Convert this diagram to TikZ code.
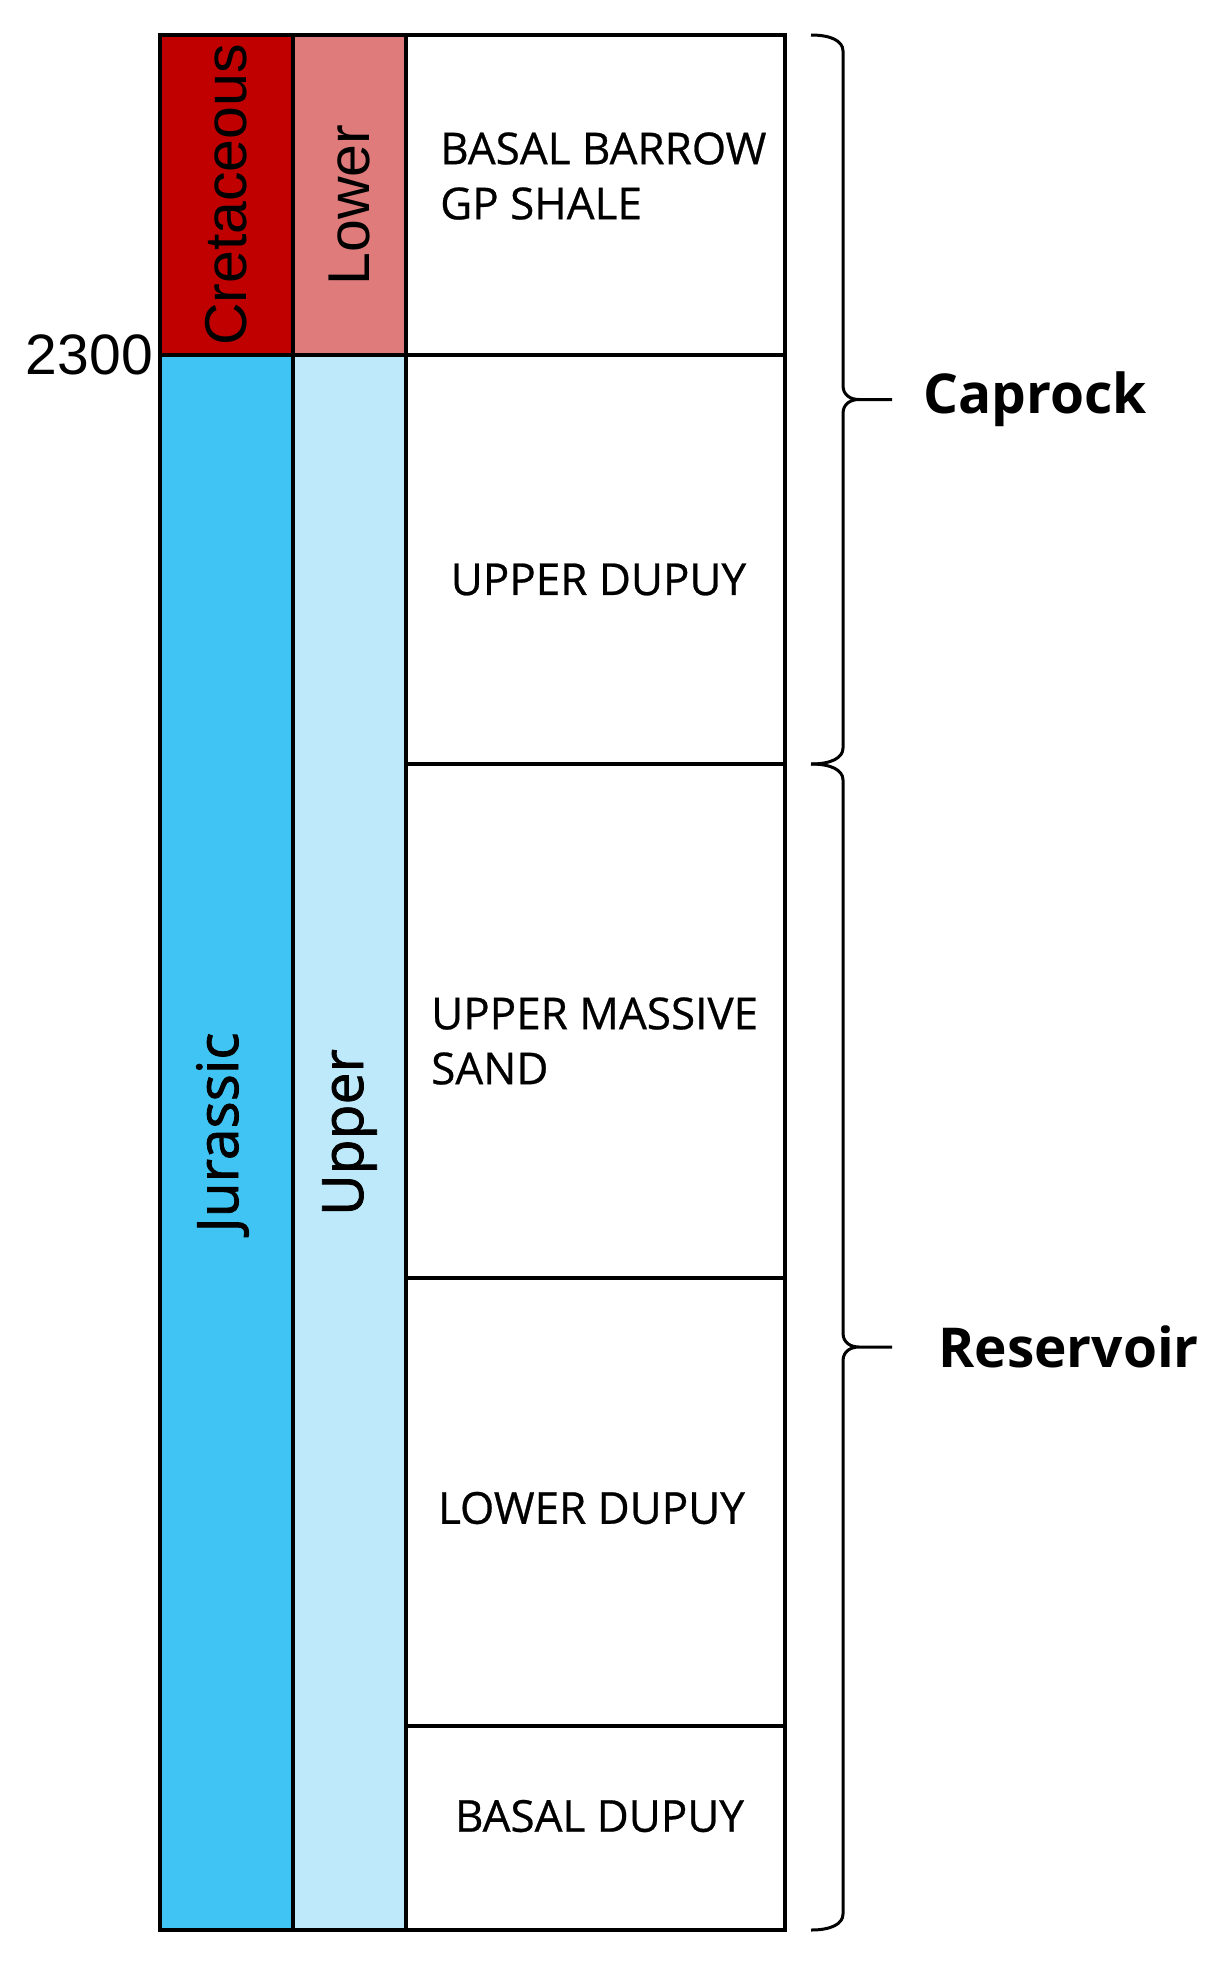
\documentclass[tikz,border=0pt]{standalone}
\usepackage{fontspec}
\setmainfont{Liberation Sans}
\newfontfamily\unitfont{Open Sans}[FakeBold=0.6]
\newfontfamily\epochfont{Open Sans}[FakeBold=1.4]
\newfontfamily\zonefont{Open Sans}
\usetikzlibrary{positioning, calc}
\definecolor{cretred}{RGB}{192,0,0}
\definecolor{lowerred}{RGB}{223,123,123}
\definecolor{jurblue}{RGB}{64,196,244}
\definecolor{upperblue}{RGB}{189,233,250}
\tikzset{
    cellbox/.style={
        rectangle,
        draw=black,
        line width=3.5pt,
        fill=white,
        inner sep=0pt,
        outer sep=0pt
    },
    periodlabel/.style={
        rotate=90,
        inner sep=0pt,
        font=\fontsize{59}{70}\selectfont
    },
    epochlabel/.style={
        rotate=90,
        inner sep=0pt,
        font=\epochfont\fontsize{57}{68}\selectfont
    },
    unitlabel/.style={
        inner sep=0pt,
        align=left,
        font=\unitfont\fontsize{44}{55}\selectfont
    },
    zonelabel/.style={
        inner sep=0pt,
        font=\zonefont\bfseries\fontsize{55}{66}\selectfont
    },
    depthlabel/.style={
        inner sep=0pt,
        font=\fontsize{57}{68}\selectfont
    },
    bracestroke/.style={
        draw=black,
        line width=3pt
    }
}

\begin{document}
\begin{tikzpicture}[x=1pt, y=-1pt]
    \useasboundingbox (0,0) rectangle (1222,1970);

    % period and epoch columns
    \node[cellbox, fill=cretred, minimum width=133pt, minimum height=320pt, anchor=north west] (cret) at (160,35) {};
    \node[cellbox, fill=lowerred, minimum width=113pt, minimum height=320pt, right=0pt of cret] (lowcret) {};
    \node[cellbox, fill=jurblue, minimum width=133pt, minimum height=1575pt, below=0pt of cret] (jur) {};
    \node[cellbox, fill=upperblue, minimum width=113pt, minimum height=1575pt, below=0pt of lowcret] (upjur) {};

    % formation column
    \node[cellbox, minimum width=379pt, minimum height=320pt, right=0pt of lowcret] (barrow) {};
    \node[cellbox, minimum width=379pt, minimum height=409pt, below=0pt of barrow] (updupuy) {};
    \node[cellbox, minimum width=379pt, minimum height=514pt, below=0pt of updupuy] (massive) {};
    \node[cellbox, minimum width=379pt, minimum height=448pt, below=0pt of massive] (lowdupuy) {};
    \node[cellbox, minimum width=379pt, minimum height=204pt, below=0pt of lowdupuy] (basal) {};

    \node[periodlabel] (cretlabel) at (cret.center) {Cretaceous};
    \node[periodlabel] (lowlabel) at ($(lowcret.center)+(0,10)$) {Lower};
    \node[epochlabel] (jurlabel) at ($(jur.center)+(-4,-10)$) {Jurassic};
    \node[epochlabel] (uplabel) at ($(upjur.center)+(0,-10)$) {Upper};
    \node[depthlabel, left=7pt of cret.south west] (depth) {2300};

    \node[unitlabel, anchor=west] (barrowlabel) at ($(barrow.west)+(34,-19)$) {BASAL BARROW\\GP SHALE};
    \node[unitlabel] (updupuylabel) at ($(updupuy.center)+(3,20)$) {UPPER DUPUY};
    \node[unitlabel, anchor=west] (massivelabel) at ($(massive.west)+(25,20)$) {UPPER MASSIVE\\SAND};
    \node[unitlabel] (lowdupuylabel) at ($(lowdupuy.center)+(-4,6)$) {LOWER DUPUY};
    \node[unitlabel] (basallabel) at ($(basal.center)+(4,-12)$) {BASAL DUPUY};

    % braces
    \coordinate (captop) at ($(barrow.north east)+(26,0)$);
    \coordinate (capbot) at ($(updupuy.south east)+(26,0)$);
    \coordinate (captip) at ($(captop)!0.5!(capbot)$);
    \coordinate (resbot) at ($(basal.south east)+(26,0)$);
    \coordinate (restip) at ($(capbot)!0.5!(resbot)$);
    \coordinate (capend) at ($(captip)+(81,0)$);
    \coordinate (resend) at ($(restip)+(81,0)$);

    \draw[bracestroke] (captop) .. controls +(20,0) and +(0,-10) .. ($(captop)+(32,16)$)
        -- ($(captip)+(32,-14)$) .. controls +(0,10) and +(-8,0) .. ($(captip)+(48,0)$) -- (capend)
        ($(captip)+(48,0)$) .. controls +(-8,0) and +(0,-10) .. ($(captip)+(32,14)$)
        -- ($(capbot)+(32,-16)$) .. controls +(0,10) and +(20,0) .. (capbot);
    \draw[bracestroke] (capbot) .. controls +(20,0) and +(0,-10) .. ($(capbot)+(32,16)$)
        -- ($(restip)+(32,-14)$) .. controls +(0,10) and +(-8,0) .. ($(restip)+(48,0)$) -- (resend)
        ($(restip)+(48,0)$) .. controls +(-8,0) and +(0,-10) .. ($(restip)+(32,14)$)
        -- ($(resbot)+(32,-16)$) .. controls +(0,10) and +(20,0) .. (resbot);

    \node[zonelabel, right=31pt of capend] (caprock) {Caprock};
    \node[zonelabel, right=46pt of resend] (reservoir) {Reservoir};
\end{tikzpicture}
\end{document}
